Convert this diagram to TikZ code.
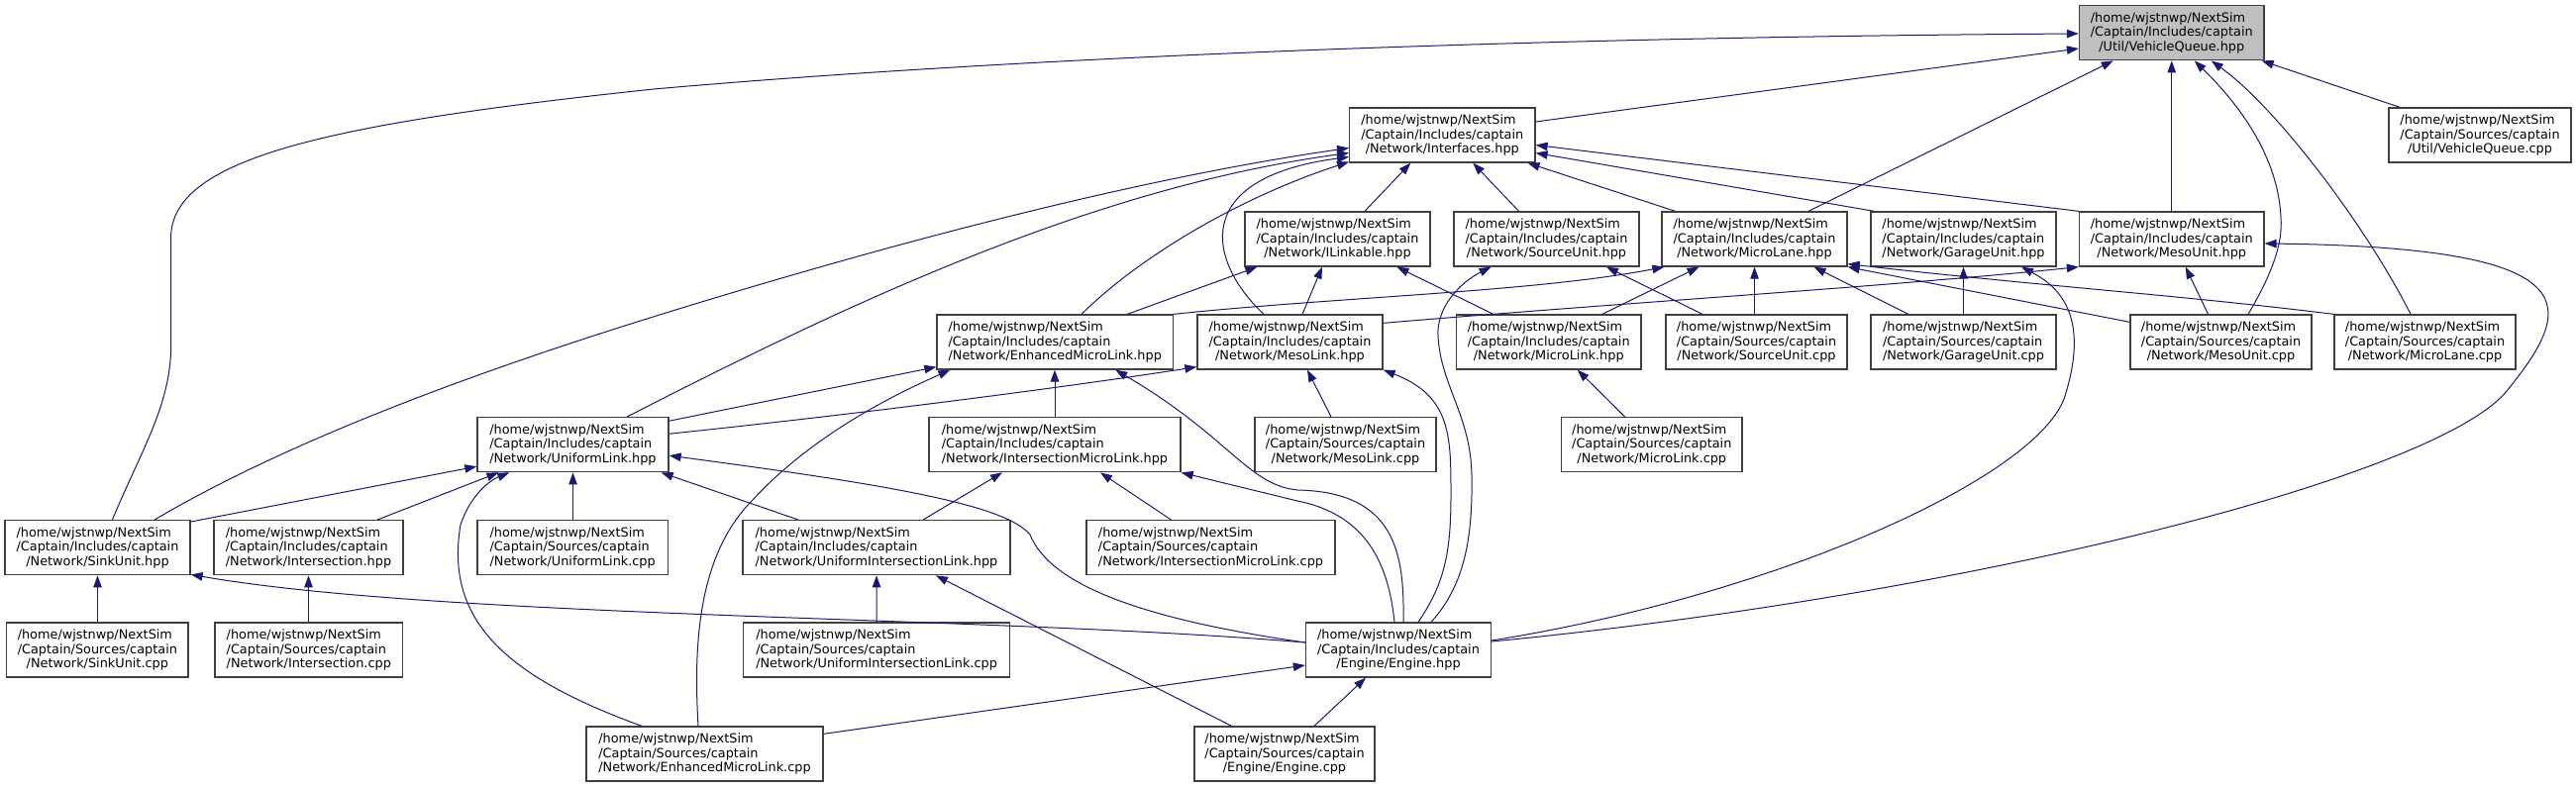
\documentclass[tikz,border=0pt]{standalone}
\usepackage{fontspec}
\setmainfont{DejaVu Sans}
\usetikzlibrary{arrows.meta}
\definecolor{edgeblue}{RGB}{25,25,112}
\definecolor{boxline}{RGB}{64,64,64}
\definecolor{boxgray}{RGB}{191,191,191}
\newdimen\lblw
\newcommand\lbl[3]{%
 \setbox0\hbox{#1}\setbox2\hbox{#2}\setbox4\hbox{#3}%
 \lblw=\wd0 \ifdim\wd2>\lblw \lblw=\wd2 \fi \ifdim\wd4>\lblw \lblw=\wd4 \fi
 \vbox{\baselineskip=14.7pt \lineskiplimit=-10pt
  \hbox to\lblw{\copy0\hfil}\hbox to\lblw{\copy2\hfil}\hbox to\lblw{\hfil\copy4\hfil}}}
\newcommand\inc[1]{\lbl{/home/wjstnwp/NextSim}{/Captain/Includes/captain}{#1}}
\newcommand\src[1]{\lbl{/home/wjstnwp/NextSim}{/Captain/Sources/captain}{#1}}
\tikzset{
 box/.style={draw=boxline, line width=1.3pt, fill=white, minimum height=55, inner sep=0pt,
   font=\fontsize{12.85}{14.7}\selectfont},
 conn/.style={draw=edgeblue, line width=1pt, -{Triangle[length=12pt,width=8.5pt]}},
}
\begin{document}
\begin{tikzpicture}[x=1pt,y=-1pt]
\useasboundingbox (0,0) rectangle (2601,795);
% row 1
\node[box, fill=boxgray, minimum width=186.5] (VQh) at (2192.75,33.2) {\inc{/Util/VehicleQueue.hpp}};
% row 2
\node[box, minimum width=184] (VQc) at (2504,136.5) {\src{/Util/VehicleQueue.cpp}};
\node[box, minimum width=187.3] (Ifc) at (1456.3,136.5) {\inc{/Network/Interfaces.hpp}};
% row 3
\node[box, minimum width=187] (ILk) at (1350.5,241.5) {\inc{/Network/ILinkable.hpp}};
\node[box, minimum width=187] (SUh) at (1561.5,241.5) {\inc{/Network/SourceUnit.hpp}};
\node[box, minimum width=187] (MLh) at (1771.5,241.5) {\inc{/Network/MicroLane.hpp}};
\node[box, minimum width=187] (GUh) at (1982.5,241.5) {\inc{/Network/GarageUnit.hpp}};
\node[box, minimum width=186.5] (MUh) at (2192.75,241.5) {\inc{/Network/MesoUnit.hpp}};
% row 4
\node[box, minimum width=238.5] (EMLh) at (1065.25,345.5) {\inc{/Network/EnhancedMicroLink.hpp}};
\node[box, minimum width=187] (MsLh) at (1302.5,345.5) {\inc{/Network/MesoLink.hpp}};
\node[box, minimum width=186.5] (MkLh) at (1563.75,345.5) {\inc{/Network/MicroLink.hpp}};
\node[box, minimum width=183] (SUc) at (1773.5,345.5) {\src{/Network/SourceUnit.cpp}};
\node[box, minimum width=187] (GUc) at (1982.5,345.5) {\src{/Network/GarageUnit.cpp}};
\node[box, minimum width=183] (MUc) at (2242.5,345.5) {\src{/Network/MesoUnit.cpp}};
\node[box, minimum width=183] (MLc) at (2448.5,345.5) {\src{/Network/MicroLane.cpp}};
% row 5
\node[box, minimum width=193] (ULh) at (578.5,449.2) {\inc{/Network/UniformLink.hpp}};
\node[box, minimum width=254] (IMLh) at (1065,449.2) {\inc{/Network/IntersectionMicroLink.hpp}};
\node[box, minimum width=183] (MsLc) at (1358.5,449.2) {\src{/Network/MesoLink.cpp}};
\node[box, minimum width=182.5] (MkLc) at (1667.75,449.2) {\src{/Network/MicroLink.cpp}};
% row 6
\node[box, minimum width=187] (SKh) at (98.5,553.2) {\inc{/Network/SinkUnit.hpp}};
\node[box, minimum width=191] (ISh) at (311.5,553.2) {\inc{/Network/Intersection.hpp}};
\node[box, minimum width=192.4] (ULc) at (578.2,553.2) {\src{/Network/UniformLink.cpp}};
\node[box, minimum width=270] (UILh) at (885,553.2) {\inc{/Network/UniformIntersectionLink.hpp}};
\node[box, minimum width=251] (IMLc) at (1222.5,553.2) {\src{/Network/IntersectionMicroLink.cpp}};
% row 7
\node[box, minimum width=183.3] (SKc) at (98.35,656.5) {\src{/Network/SinkUnit.cpp}};
\node[box, minimum width=189.6] (ISc) at (311.8,656.5) {\src{/Network/Intersection.cpp}};
\node[box, minimum width=269] (UILc) at (885.1,656.5) {\src{/Network/UniformIntersectionLink.cpp}};
\node[box, minimum width=187] (ENh) at (1412,656.5) {\inc{/Engine/Engine.hpp}};
% row 8
\node[box, minimum width=239] (EMLc) at (711.5,761.5) {\src{/Network/EnhancedMicroLink.cpp}};
\node[box, minimum width=182] (ENc) at (1297,761.5) {\src{/Engine/Engine.cpp}};

% edges into VehicleQueue.hpp
\draw[conn] ([yshift=13.5]Ifc.east) -- ([yshift=-15.8]VQh.west);
\draw[conn] ([xshift=15]SKh.north) .. controls (140,460) and (172.6,410) .. (172.6,350) -- (172.6,240)
  .. controls (172.6,160) and (330,125) .. (660,90) .. controls (1000,60) and (1500,38) .. ([yshift=-0.8]VQh.west);
\draw[conn] ([xshift=54.5]MLh.north) -- ([xshift=-59]VQh.south);
\draw[conn] (MUh.north) -- (VQh.south);
\draw[conn] ([xshift=27.5]MUc.north) .. controls (2295,275) and (2305,245) .. (2303,220)
  .. controls (2300,150) and (2250,95) .. ([xshift=23]VQh.south);
\draw[conn] ([xshift=-14.5]MLc.north) .. controls (2390,230) and (2300,110) .. ([xshift=40]VQh.south);
\draw[conn] ([xshift=-81]VQc.north) -- ([xshift=-3]VQh.south east);
% edges into Interfaces.hpp
\draw[conn] ([xshift=57.5]SKh.north) .. controls (300,440) and (500,370) .. (650,323)
  .. controls (900,245) and (1150,180) .. ([yshift=-13]Ifc.west);
\draw[conn] ([xshift=54.5]ULh.north) .. controls (850,310) and (1100,190) .. ([yshift=-18]Ifc.west);
\draw[conn] ([xshift=26.8]EMLh.north) .. controls (1150,260) and (1250,200) .. ([yshift=-27]Ifc.west);
\draw[conn] ([xshift=-26.5]MsLh.north) .. controls (1220,265) and (1200,180) .. ([yshift=-22]Ifc.west);
\draw[conn] ([xshift=27.5]ILk.north) -- ([xshift=-32]Ifc.south);
\draw[conn] ([xshift=-28]SUh.north) -- ([xshift=31]Ifc.south);
\draw[conn] ([xshift=-80]MLh.north) -- ([xshift=-8]Ifc.south east);
\draw[conn] ([xshift=4]GUh.north west) -- ([yshift=-18]Ifc.east);
\draw[conn] (MUh.north west) -- ([yshift=-10]Ifc.east);
% edges into ILinkable.hpp
\draw[conn] ([xshift=73]EMLh.north) -- ([xshift=13]ILk.south west);
\draw[conn] ([xshift=12.5]MsLh.north) -- ([xshift=-15.5]ILk.south);
\draw[conn] ([xshift=-56]MkLh.north) -- ([xshift=60]ILk.south);
% edges into MicroLane.hpp
\draw[conn] (EMLh.north east) .. controls (1350,300) and (1550,295) .. ([xshift=3]MLh.south west);
\draw[conn] ([xshift=54]MkLh.north) -- ([xshift=-56]MLh.south);
\draw[conn] (MLh.south |- SUc.north) -- (MLh.south);
\draw[conn] ([xshift=-55.5]GUc.north) -- ([xshift=60]MLh.south);
\draw[conn] ([yshift=-8]MUc.north west) -- (MLh.south east);
\draw[conn] (MLc.north west) .. controls (2200,298) and (2050,288) .. ([yshift=3]MLh.south east);
% edges into MesoUnit.hpp
\draw[conn] ([yshift=-9]MsLh.north east) .. controls (1650,305) and (1900,290) .. (MUh.south west);
\draw[conn] ([xshift=-13]MUc.north) -- ([xshift=14]MUh.south);
\draw[conn] ([yshift=8.5]ENh.east) .. controls (2000,600) and (2462,480) .. (2531,395)
  .. controls (2600,310) and (2620,250) .. ([yshift=-4.5]MUh.east);
% edges into GarageUnit.hpp
\draw[conn] (GUc.north) -- (GUh.south);
\draw[conn] ([yshift=9.5]ENh.east) .. controls (1800,600) and (2060,480) .. (2085,400)
  .. controls (2110,320) and (2080,290) .. ([xshift=58.5]GUh.south);
% edges into SourceUnit.hpp
\draw[conn] ([xshift=-54.5]SUc.north) -- ([xshift=60.5]SUh.south);
\draw[conn] ([xshift=33]ENh.north) .. controls (1480,590) and (1487,540) .. (1486,480)
  .. controls (1485,420) and (1455,390) .. (1452,340) .. controls (1450,310) and (1475,285) .. ([xshift=-56]SUh.south);
% edges into MesoLink.hpp
\draw[conn] ([xshift=20]ENh.north) .. controls (1458,590) and (1465,560) .. (1465,500)
  .. controls (1465,440) and (1465,400) .. (MsLh.south east);
\draw[conn] ([xshift=-14.5]MsLc.north) -- ([xshift=17.5]MsLh.south);
\draw[conn] ([yshift=11]ULh.east) .. controls (850,420) and (1050,395) .. ([yshift=3]MsLh.south west);
% edges into MicroLink.hpp
\draw[conn] ([xshift=-27]MkLc.north) -- ([xshift=29]MkLh.south);
% edges into EnhancedMicroLink.hpp
\draw[conn] ([yshift=24]ULh.east) -- ([yshift=3]EMLh.south west);
\draw[conn] ([xshift=-6.5]EMLc.north) .. controls (700,650) and (705,560) .. (760,505)
  .. controls (820,440) and (900,400) .. ([xshift=14]EMLh.south west);
\draw[conn] (IMLh.north) -- (IMLh.north |- EMLh.south);
\draw[conn] ([xshift=5]ENh.north) .. controls (1418,560) and (1410,497) .. (1310,495)
  .. controls (1260,490) and (1240,440) .. ([xshift=61]EMLh.south);
% edges into IntersectionMicroLink.hpp
\draw[conn] ([xshift=-4]ENh.north) .. controls (1402,570) and (1380,520) .. (1310,506) -- (IMLh.south east);
\draw[conn] ([xshift=47]UILh.north) -- ([xshift=-53]IMLh.south);
\draw[conn] ([xshift=-40]IMLc.north) -- ([xshift=46]IMLh.south);
% edges into UniformLink.hpp
\draw[conn] ([yshift=-2]SKh.north east) -- ([yshift=-22]ULh.west);
\draw[conn] ([xshift=69.5]ISh.north) -- ([xshift=22]ULh.south west);
\draw[conn] (ULh.south |- ULc.north) -- (ULh.south);
\draw[conn] ([xshift=-63.5]EMLc.north) .. controls (500,680) and (450,620) .. (465,530)
  .. controls (475,500) and (495,485) .. ([xshift=33]ULh.south west);
\draw[conn] ([xshift=-79]UILh.north) -- ([xshift=-8]ULh.south east);
\draw[conn] ([yshift=7.5]ENh.west) .. controls (1150,625) and (1060,590) .. (1040,540)
  .. controls (1015,510) and (900,490) .. ([yshift=-11]ULh.east);
% edges into SinkUnit.hpp
\draw[conn] ([yshift=7.5]ENh.west) .. controls (1000,622) and (450,625) .. ([yshift=1]SKh.south east);
\draw[conn] (SKh.south |- SKc.north) -- (SKh.south);
% others
\draw[conn] (UILc.north) -- (UILh.south);
\draw[conn] ([xshift=-53.5]ENc.north) -- ([xshift=60]UILh.south);
\draw[conn] (ISh.south |- ISc.north) -- (ISh.south);
\draw[conn] ([yshift=-8]EMLc.north east) -- ([yshift=-15.5]ENh.west);
\draw[conn] ([xshift=30]ENc.north) -- ([xshift=-33]ENh.south);
\end{tikzpicture}
\end{document}
